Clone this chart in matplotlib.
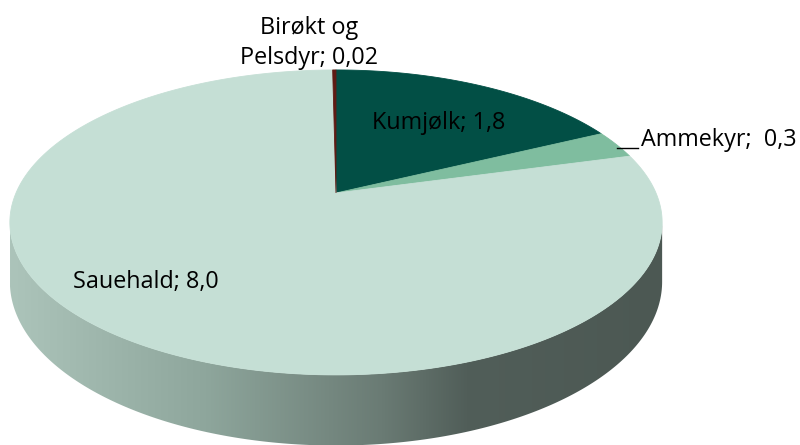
import matplotlib.pyplot as plt
import numpy as np
from matplotlib.colors import LinearSegmentedColormap
from matplotlib.patches import Polygon

labels = ["Kumjølk", "Ammekyr", "Sauehald", "Birøkt og\nPelsdyr"]
values = [1.8, 0.3, 8.0, 0.02]
value_text = ["1,8", "0,3", "8,0", "0,02"]
colors = ["#024f45", "#7fbd9f", "#c5dfd5", "#5e1b14"]

# geometry of the tilted pie (pixel-like data coords)
cx, cy = 336, 193
rx, ry, k = 320, 146.8, 0.193
depth = 57


def proj(theta, drop=0.0):
    u, v = np.cos(theta), np.sin(theta)
    w = 1 + k * v
    return cx + rx * u / w, cy - ry * v / w + drop / w


fig = plt.figure(figsize=(8, 4.45), dpi=100)
ax = fig.add_axes([0, 0, 1, 1])
ax.set_xlim(0, 800)
ax.set_ylim(445, 0)
ax.axis("off")

# side wall (front half, visible silhouette)
t_side = np.linspace(np.pi + np.arcsin(k), 2 * np.pi - np.arcsin(k), 300)
tx, ty = proj(t_side)
bx, by = proj(t_side, depth)
side = Polygon(np.column_stack([np.r_[tx, bx[::-1]], np.r_[ty, by[::-1]]]),
               closed=True, facecolor="none", edgecolor="none")
ax.add_patch(side)
side_cmap = LinearSegmentedColormap.from_list(
    "side", [(0.0, "#acc4ba"), (0.3, "#8ea69c"), (0.57, "#6a7b74"),
             (0.7, "#515e59"), (1.0, "#4c5853")])
grad = np.linspace(0, 1, 256).reshape(1, -1)
img = ax.imshow(grad, cmap=side_cmap, aspect="auto",
                extent=(tx.min(), tx.max(), by.max() + 2, ty.min()), zorder=1)
img.set_clip_path(side)

# top wedges, clockwise from 12 o'clock
total = sum(values)
start = np.pi / 2
for val, col in zip(values, colors):
    sweep = 2 * np.pi * val / total
    th = np.linspace(start, start - sweep, max(int(sweep * 80), 4))
    px, py = proj(th)
    ax.fill(np.r_[cx, px], np.r_[cy, py], color=col, lw=0.6, ec=col, zorder=2)
    start -= sweep

font = dict(family="Open Sans", fontsize=16.8, color="black", zorder=5)
ax.text(372, 123, f"{labels[0]}; {value_text[0]}", ha="left", va="center", **font)
ax.text(641, 140, f"{labels[1]};  {value_text[1]}", ha="left", va="center", **font)
ax.plot([617, 638], [148, 148], color="black", lw=1, zorder=5)
ax.text(73, 282, f"{labels[2]}; {value_text[2]}", ha="left", va="center", **font)
ax.text(309, 43, f"{labels[3]}; {value_text[3]}", ha="center", va="center",
        linespacing=1.35, **font)

fig.savefig("out.png", dpi=100)
